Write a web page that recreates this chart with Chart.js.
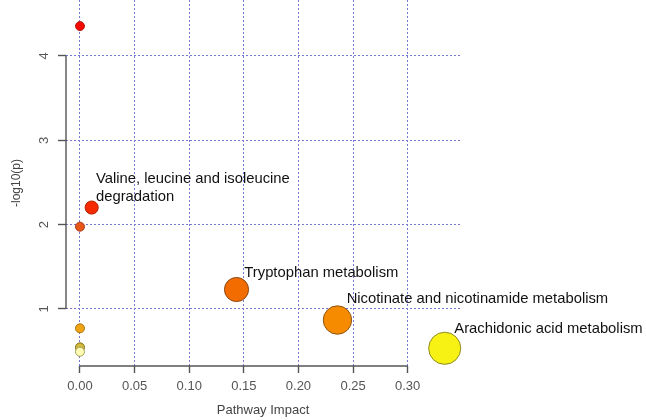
<!DOCTYPE html>
<html>
<head>
<meta charset="utf-8">
<script src="https://cdn.jsdelivr.net/npm/chart.js@4/dist/chart.umd.min.js"></script>
<style>
  html, body { margin: 0; padding: 0; background: #fff; }
  #wrap { width: 646px; height: 420px; }
</style>
</head>
<body>
<div id="wrap"><canvas id="pathwayChart" width="646" height="420"></canvas></div>
<script>
//DATA

// pathway names ("" = not labelled in the plot)
var pathwayLabels = ["", "", "", "", "",
  "Valine, leucine and isoleucine\ndegradation",
  "Tryptophan metabolism",
  "Nicotinate and nicotinamide metabolism",
  "Arachidonic acid metabolism"];
var impact = [0, 0, 0, 0, 0, 0.0107, 0.1433, 0.2357, 0.3339];
var logP = [4.355, 1.976, 0.771, 0.545, 0.493, 2.203, 1.231, 0.869, 0.534];

var xTicks = [0, 0.05, 0.10, 0.15, 0.20, 0.25, 0.30];
var yTicks = [1, 2, 3, 4];

//STYLES
var $fills = ["#f20a00", "#e9561a", "#f0a414", "#d2bb3a", "#fffbb4", "#f52a00", "#f26c00", "#f78b00", "#f8f214"];
var $borders = ["#b41e10", "#a83a14", "#a87410", "#7a6c1c", "#a4a060", "#b02000", "#8a4614", "#8a5414", "#8c8a24"];
var $grid = "#7676d4";
var $axis = "#555";
var $font = "'Liberation Sans', Arial, sans-serif";

// label offsets from the point centre: [dx, baseline dy of last line]
var labelOffsets = [null, null, null, null, null, [4.3, -6.8], [7.8, -12.8], [9.2, -17.3], [9.6, -15.3]];

var points = impact.map(function (v, i) { return { x: v, y: logP[i] }; });
// bubble size grows with pathway impact
var radii = impact.map(function (v) { return 4.5 + 20 * Math.sqrt(v); });

// R style axes: lines only between the first and last tick
var rAxes = {
  id: "rAxes",
  afterDraw: function (chart) {
    var ctx = chart.ctx, xs = chart.scales.x, ys = chart.scales.y, a = chart.chartArea;
    ctx.save();
    ctx.strokeStyle = $axis;
    ctx.lineWidth = 1.4;
    ctx.beginPath();
    ctx.moveTo(a.left, ys.getPixelForValue(yTicks[0]));
    ctx.lineTo(a.left, ys.getPixelForValue(yTicks[yTicks.length - 1]));
    ctx.moveTo(xs.getPixelForValue(xTicks[0]), a.bottom);
    ctx.lineTo(xs.getPixelForValue(xTicks[xTicks.length - 1]), a.bottom);
    ctx.stroke();
    ctx.restore();
  }
};

var pointLabels = {
  id: "pointLabels",
  afterDatasetsDraw: function (chart) {
    var ctx = chart.ctx;
    var meta = chart.getDatasetMeta(0);
    ctx.save();
    ctx.fillStyle = "#111";
    ctx.font = "14.8px " + $font;
    ctx.textAlign = "left";
    ctx.textBaseline = "alphabetic";
    pathwayLabels.forEach(function (txt, i) {
      if (!txt) return;
      var el = meta.data[i];
      var lines = txt.split("\n");
      var off = labelOffsets[i];
      lines.forEach(function (line, k) {
        ctx.fillText(line, el.x + off[0], el.y + off[1] - (lines.length - 1 - k) * 17.7);
      });
    });
    ctx.restore();
  }
};

var ctx = document.getElementById("pathwayChart").getContext("2d");
var pathwayChart = new Chart(ctx, {
  type: "scatter",
  data: {
    datasets: [{
      data: points,
      pointRadius: radii,
      pointHoverRadius: radii,
      backgroundColor: $fills,
      borderColor: $borders,
      borderWidth: 1,
      clip: false
    }]
  },
  options: {
    responsive: false,
    animation: false,
    devicePixelRatio: 1,
    layout: { autoPadding: false, padding: { left: 0, right: 186, top: 0, bottom: 0 } },
    plugins: {
      legend: { display: false },
      tooltip: { enabled: false }
    },
    scales: {
      x: {
        type: "linear",
        min: -0.0128,
        max: 0.3479,
        afterBuildTicks: function (s) { s.ticks = xTicks.map(function (v) { return { value: v }; }); },
        afterFit: function (s) { s.height = 54; s.paddingLeft = 0; s.paddingRight = 0; },
        border: { display: false, dash: [2, 2] },
        grid: {
          color: $grid,
          lineWidth: 1,
          drawTicks: true,
          tickLength: 7,
          tickColor: $axis,
          tickWidth: 1.4,
          tickBorderDash: []
        },
        ticks: {
          padding: 6,
          color: "#555",
          font: { family: $font, size: 13 },
          maxRotation: 0,
          callback: function (v) { return v.toFixed(2); }
        },
        title: {
          display: true,
          text: "Pathway Impact",
          color: "#444",
          font: { family: $font, size: 13 },
          padding: { top: 0, bottom: 2 }
        }
      },
      y: {
        type: "linear",
        min: 0.324,
        max: 4.664,
        afterBuildTicks: function (s) { s.ticks = yTicks.map(function (v) { return { value: v }; }); },
        afterFit: function (s) { s.width = 66; s.paddingTop = 0; s.paddingBottom = 0; },
        border: { display: false, dash: [2, 2] },
        grid: {
          color: $grid,
          lineWidth: 1,
          drawTicks: true,
          tickLength: 8,
          tickColor: $axis,
          tickWidth: 1.4,
          tickBorderDash: []
        },
        ticks: {
          padding: 9.5,
          color: "#555",
          minRotation: 90,
          maxRotation: 90,
          crossAlign: "center",
          font: { family: $font, size: 13 },
          callback: function (v) { return String(v); }
        },
        title: {
          display: true,
          text: "-log10(p)",
          color: "#444",
          font: { family: $font, size: 12 },
          padding: { top: 9, bottom: 0 }
        }
      }
    }
  },
  plugins: [rAxes, pointLabels]
});
</script>
</body>
</html>
